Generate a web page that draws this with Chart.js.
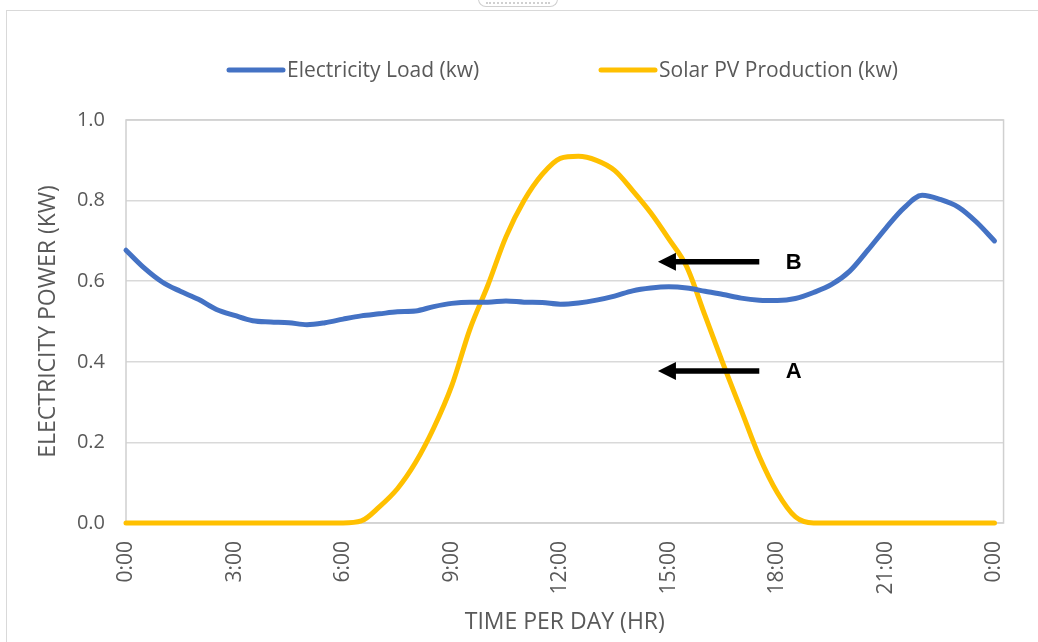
<!DOCTYPE html>
<html>
<head>
<meta charset="utf-8">
<script src="https://cdn.jsdelivr.net/npm/chart.js@4.4.1/dist/chart.umd.min.js"></script>
<style>
  html, body { margin: 0; padding: 0; background: #fff; overflow: hidden; }
  #wrap { position: relative; width: 1038px; height: 642px; overflow: hidden; }
  #frame { position: absolute; left: 6px; top: 10px; width: 1100px; height: 700px; border: 1px solid #d9d9d9; }
  #tab { position: absolute; left: 478px; top: -3px; width: 78px; height: 9px; border: 1.5px solid #d0d0d0; border-top: none; border-radius: 0 0 8px 8px; background: #fff; }
  #tab::after { content: ""; position: absolute; left: 7px; right: 7px; top: 5px; border-top: 2px dotted #d0d0d0; }
  canvas { position: absolute; left: 0; top: 0; }
</style>
</head>
<body>
<div id="wrap">
  <div id="frame"></div>
  <div id="tab"></div>
  <canvas id="chart" width="1038" height="642"></canvas>
</div>
<script>
// Time of day in hours (half-hour steps)
const hours = [
  0, 0.5, 1, 1.5, 2, 2.5, 3, 3.5, 4, 4.5, 5, 5.5, 6, 6.5, 7, 7.5, 8, 8.5, 9, 9.5,
  10, 10.5, 11, 11.5, 12, 12.5, 13, 13.5, 14, 14.5, 15, 15.5, 16, 16.5, 17, 17.5,
  18, 18.5, 19, 19.5, 20, 20.5, 21, 21.5, 22, 22.5, 23, 23.5, 24
];

// Household electricity load (kW)
const loadKw = [
  0.677, 0.633, 0.598, 0.575, 0.555, 0.530, 0.515, 0.502, 0.499, 0.497, 0.492, 0.497,
  0.506, 0.514, 0.519, 0.524, 0.526, 0.537, 0.545, 0.548, 0.548, 0.551, 0.548, 0.547,
  0.543, 0.546, 0.553, 0.563, 0.576, 0.583, 0.586, 0.583, 0.575, 0.567, 0.558, 0.553,
  0.552, 0.557, 0.572, 0.592, 0.625, 0.677, 0.732, 0.782, 0.813, 0.803, 0.784, 0.747,
  0.700
];

// Solar PV production (kW)
const solarKw = [
  0, 0, 0, 0, 0, 0, 0, 0, 0, 0, 0, 0,
  0, 0.005, 0.040, 0.085, 0.150, 0.235, 0.340, 0.480, 0.590, 0.710, 0.800, 0.865,
  0.905, 0.910, 0.900, 0.875, 0.825, 0.770, 0.705, 0.635, 0.515, 0.395, 0.280, 0.165,
  0.075, 0.015, 0, 0, 0, 0, 0, 0, 0, 0, 0, 0,
  0
];

const seriesNames = ['Electricity Load (kw)', 'Solar PV Production (kw)'];
const seriesColors = ['#4472C4', '#FFC000'];
const xTickHours = [0, 3, 6, 9, 12, 15, 18, 21, 24];
const yTickValues = [0, 0.2, 0.4, 0.6, 0.8, 1.0];
const markerLabels = ['B', 'A'];
const markerLevels = [0.648, 0.377];

const FONT = "'Open Sans', 'DejaVu Sans', sans-serif";
const TEXT = '#595959';

// Grey frame round the plotting area
const plotFrame = {
  id: 'plotFrame',
  beforeDatasetsDraw(chart) {
    const { ctx, chartArea: a } = chart;
    ctx.save();
    ctx.strokeStyle = '#d0d0d0';
    ctx.lineWidth = 1.5;
    ctx.strokeRect(a.left, a.top, a.right - a.left, a.bottom - a.top);
    ctx.restore();
  }
};

// Legend with line-style keys
const lineLegend = {
  id: 'lineLegend',
  afterDraw(chart) {
    const { ctx } = chart;
    const keys = [{ x: 229, w: 54 }, { x: 601, w: 54 }];
    const y = 70;
    ctx.save();
    ctx.font = `21px ${FONT}`;
    ctx.textBaseline = 'middle';
    ctx.lineCap = 'round';
    chart.data.datasets.forEach((ds, i) => {
      ctx.strokeStyle = ds.borderColor;
      ctx.lineWidth = 5;
      ctx.beginPath();
      ctx.moveTo(keys[i].x, y);
      ctx.lineTo(keys[i].x + keys[i].w, y);
      ctx.stroke();
      ctx.fillStyle = TEXT;
      ctx.fillText(ds.label, keys[i].x + keys[i].w + 4, y + 1);
    });
    ctx.restore();
  }
};

// Arrow call-outs pointing left, with letters
const arrowNotes = {
  id: 'arrowNotes',
  afterDraw(chart) {
    const { ctx, scales: { x, y } } = chart;
    const tipH = 14.7, tailH = 17.5, letterH = 18.45;
    ctx.save();
    markerLevels.forEach((lvl, i) => {
      const py = y.getPixelForValue(lvl);
      const tip = x.getPixelForValue(tipH);
      const tail = x.getPixelForValue(tailH);
      ctx.strokeStyle = '#000';
      ctx.fillStyle = '#000';
      ctx.lineWidth = 5.5;
      ctx.beginPath();
      ctx.moveTo(tip + 15, py);
      ctx.lineTo(tail, py);
      ctx.stroke();
      ctx.beginPath();
      ctx.moveTo(tip, py);
      ctx.lineTo(tip + 18, py - 9);
      ctx.lineTo(tip + 18, py + 9);
      ctx.closePath();
      ctx.fill();
      ctx.font = "bold 22px 'Liberation Sans', Arial, sans-serif";
      ctx.textAlign = 'center';
      ctx.textBaseline = 'middle';
      ctx.fillText(markerLabels[i], x.getPixelForValue(letterH), py + 1);
    });
    ctx.restore();
  }
};

new Chart(document.getElementById('chart'), {
  type: 'line',
  data: {
    datasets: [
      {
        label: seriesNames[0],
        data: hours.map((h, i) => ({ x: h, y: loadKw[i] })),
        borderColor: seriesColors[0],
        backgroundColor: seriesColors[0],
        borderWidth: 5,
        pointRadius: 0,
        clip: 6,
        cubicInterpolationMode: 'monotone',
        borderCapStyle: 'round',
        borderJoinStyle: 'round'
      },
      {
        label: seriesNames[1],
        data: hours.map((h, i) => ({ x: h, y: solarKw[i] })),
        borderColor: seriesColors[1],
        backgroundColor: seriesColors[1],
        borderWidth: 5,
        pointRadius: 0,
        clip: 6,
        cubicInterpolationMode: 'monotone',
        borderCapStyle: 'round',
        borderJoinStyle: 'round'
      }
    ]
  },
  options: {
    responsive: false,
    animation: false,
    devicePixelRatio: 1,
    layout: { padding: { top: 120, right: 29, left: 0, bottom: 0 } },
    plugins: { legend: { display: false }, tooltip: { enabled: false } },
    scales: {
      x: {
        type: 'linear',
        min: 0,
        max: 24.25,
        afterBuildTicks(scale) { scale.ticks = xTickHours.map(v => ({ value: v })); },
        afterFit(scale) { scale.height = 119; },
        grid: { display: false, drawTicks: false },
        border: { display: false },
        ticks: {
          autoSkip: false,
          minRotation: 90,
          maxRotation: 90,
          padding: 18,
          color: TEXT,
          font: { family: FONT, size: 21 },
          callback: v => (Math.round(v) % 24) + ':00'
        },
        title: {
          display: true,
          text: 'TIME PER DAY (HR)',
          color: TEXT,
          font: { family: FONT, size: 23 },
          padding: { top: 0, bottom: 6 }
        }
      },
      y: {
        min: 0,
        max: 1,
        afterBuildTicks(scale) { scale.ticks = yTickValues.map(v => ({ value: v })); },
        afterFit(scale) { scale.width = 126; },
        grid: { color: '#d9d9d9', lineWidth: 1.5, drawTicks: false },
        border: { display: false },
        ticks: {
          padding: 21,
          color: TEXT,
          font: { family: FONT, size: 20 },
          callback: v => Number(v).toFixed(1)
        },
        title: {
          display: true,
          text: 'ELECTRICITY POWER (KW)',
          color: TEXT,
          font: { family: FONT, size: 23 },
          padding: { top: 35, bottom: 0 }
        }
      }
    }
  },
  plugins: [plotFrame, lineLegend, arrowNotes]
});
</script>
</body>
</html>
